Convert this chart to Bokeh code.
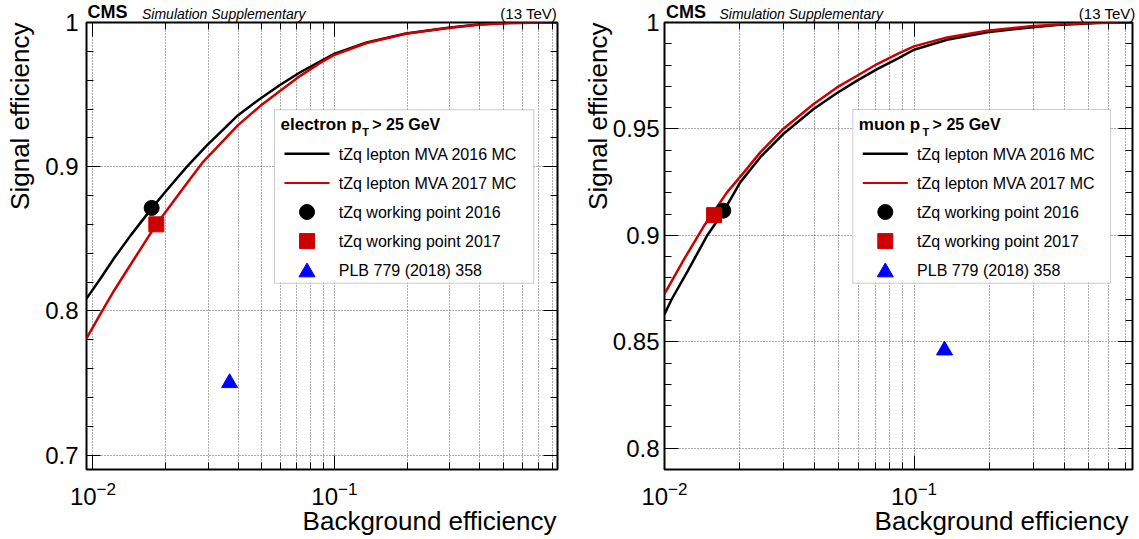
import numpy as np
from bokeh.plotting import figure
from bokeh.models import (FixedTicker, LinearAxis, LogAxis, Label, BoxAnnotation,
                          Range1d, CustomJSTickFormatter)
from bokeh.layouts import row
from bokeh.embed import file_html
from bokeh.resources import INLINE

# ---------------- data ----------------
# electron panel
ele16_x = [0.0094, 0.0108, 0.0122, 0.0143, 0.0175, 0.0202, 0.0244, 0.0295, 0.0399, 0.0494,
           0.0593, 0.0722, 0.0867, 0.099, 0.136, 0.198, 0.296, 0.394, 0.499, 0.65, 0.84]
ele16_y = [0.8085, 0.8230, 0.8363, 0.8522, 0.8711, 0.8837, 0.8997, 0.9145, 0.9357, 0.9473,
           0.9565, 0.9655, 0.9727, 0.9780, 0.9862, 0.9924, 0.9963, 0.9986, 0.9995, 0.9999, 1.0]
ele17_x = [0.0094, 0.0108, 0.0122, 0.0143, 0.0183, 0.0195, 0.0236, 0.0286, 0.0399, 0.0494,
           0.0593, 0.0722, 0.0867, 0.099, 0.136, 0.198, 0.296, 0.394, 0.499, 0.65, 0.84]
ele17_y = [0.7809, 0.7986, 0.8138, 0.8320, 0.8600, 0.8662, 0.8849, 0.9034, 0.9288, 0.9422,
           0.9524, 0.9630, 0.9716, 0.9772, 0.9858, 0.9922, 0.9962, 0.9985, 0.9995, 0.9999, 1.0]
ele_wp16_x, ele_wp16_y = [0.0175], [0.8714]
ele_wp17_x, ele_wp17_y = [0.0183], [0.8600]
ele_plb_x, ele_plb_y = [0.0368], [0.750]

# muon panel
mu16_x = [0.0100, 0.0107, 0.0123, 0.0148, 0.0172, 0.0201, 0.0242, 0.0299, 0.0396, 0.0491,
          0.0591, 0.0711, 0.0867, 0.0999, 0.1355, 0.1963, 0.2924, 0.3917, 0.541, 0.75]
mu16_y = [0.8630, 0.8701, 0.8826, 0.8998, 0.9110, 0.9249, 0.9367, 0.9476, 0.9594, 0.9669,
          0.9727, 0.9781, 0.9833, 0.9872, 0.9919, 0.9954, 0.9977, 0.9990, 0.9998, 1.0]
mu17_x = [0.0100, 0.0120, 0.0144, 0.0178, 0.0208, 0.0242, 0.0299, 0.0396, 0.0491,
          0.0591, 0.0711, 0.0867, 0.0999, 0.1355, 0.1963, 0.2924, 0.3917, 0.541, 0.75]
mu17_y = [0.8725, 0.8889, 0.9045, 0.9202, 0.9296, 0.9390, 0.9500, 0.9617, 0.9695,
          0.9750, 0.9805, 0.9855, 0.9888, 0.9930, 0.9961, 0.9982, 0.9992, 0.9999, 1.0]
mu_wp16_x, mu_wp16_y = [0.0172], [0.9116]
mu_wp17_x, mu_wp17_y = [0.0158], [0.9095]
mu_plb_x, mu_plb_y = [0.1324], [0.846]

# axes / ticks
x_major = [0.01, 0.1]
x_major_base = ["10", "10"]
x_major_exp = ["\u22122", "\u22121"]
x_minor = [0.02, 0.03, 0.04, 0.05, 0.06, 0.07, 0.08, 0.09, 0.2, 0.3, 0.4, 0.5, 0.6, 0.7, 0.8]
ele_y_major = [0.7, 0.8, 0.9, 1.0]
ele_y_labels = ["0.7", "0.8", "0.9", "1"]
ele_y_minor = [0.72, 0.74, 0.76, 0.78, 0.82, 0.84, 0.86, 0.88, 0.92, 0.94, 0.96, 0.98]
mu_y_major = [0.8, 0.85, 0.9, 0.95, 1.0]
mu_y_labels = ["0.8", "0.85", "0.9", "0.95", "1"]
mu_y_minor = [0.79, 0.81, 0.82, 0.83, 0.84, 0.86, 0.87, 0.88, 0.89, 0.91, 0.92, 0.93, 0.94,
              0.96, 0.97, 0.98, 0.99]

legend_labels = ["tZq lepton MVA 2016 MC", "tZq lepton MVA 2017 MC",
                 "tZq working point 2016", "tZq working point 2017", "PLB 779 (2018) 358"]
x_title = "Background efficiency"
y_title = "Signal efficiency"

FONT = "Liberation Sans"
RED = "#cc0000"
BLUE = "#0000ff"
W, H = 1139, 539
BASE_FIX = 0.34   # measured shift of Bokeh's "alphabetic" anchor, in font sizes

# transparent overlay covering the whole page: texts outside the plot frames + legends
ov = figure(width=W, height=H, x_range=Range1d(0, W), y_range=Range1d(0, H),
            x_axis_location=None, y_axis_location=None,
            output_backend="svg", toolbar_location=None,
            styles={"position": "absolute", "left": "0px", "top": "0px"})
ov.min_border_left = ov.min_border_right = ov.min_border_top = ov.min_border_bottom = 0
ov.background_fill_color = None
ov.border_fill_color = None
ov.outline_line_color = None
ov.xgrid.visible = False
ov.ygrid.visible = False


def lab(px, py, text, size, angle=0.0, **kw):
    # label in the overlay (absolute pixel coordinates, y measured from top, py = baseline)
    kw.setdefault("text_font", FONT)
    kw.setdefault("text_baseline", "alphabetic")
    kw.setdefault("text_color", "black")
    if angle:
        px -= BASE_FIX * size
    else:
        py -= BASE_FIX * size
    ov.add_layout(Label(x=px, y=H - py, text=text, text_font_size=f"{size}px",
                        angle=angle, **kw))


def make_panel(x0, width, bl, br, xr, yr, ymaj, ylab, ymin, c16, c17, wp16, wp17, plb,
               header, box, ylab_standoff, cms_x, sim_x, tev_x, xt_off):
    bt, bb = 22, 70
    p = figure(width=width, height=H, x_axis_type="log",
               x_range=Range1d(*xr), y_range=Range1d(*yr),
               min_border_left=bl, min_border_right=br, min_border_top=bt, min_border_bottom=bb,
               output_backend="svg", toolbar_location=None)
    p.background_fill_color = "white"
    p.border_fill_color = "white"
    p.outline_line_color = "black"
    p.outline_line_width = 2

    L, R, T, B = x0 + bl, x0 + width - br, bt, H - bb   # absolute frame edges
    lx0, lx1 = np.log10(xr[0]), np.log10(xr[1])

    def PX(xv):  # data x -> absolute pixel
        return L + (np.log10(xv) - lx0) / (lx1 - lx0) * (R - L)

    xt = FixedTicker(ticks=x_major, minor_ticks=x_minor)
    yt = FixedTicker(ticks=ymaj, minor_ticks=ymin)
    yfmt = CustomJSTickFormatter(args=dict(vals=ymaj, labs=ylab), code="""
        for (let i = 0; i < vals.length; i++) { if (Math.abs(vals[i] - tick) < 1e-9) return labs[i]; }
        return "";""")

    def style(ax, labels):
        ax.axis_line_color = None
        ax.major_tick_in = 14
        ax.major_tick_out = 0
        ax.minor_tick_in = 7
        ax.minor_tick_out = 0
        ax.major_tick_line_color = "black"
        ax.minor_tick_line_color = "black"
        ax.major_tick_line_width = 1
        ax.minor_tick_line_width = 1
        if not labels:
            ax.formatter = CustomJSTickFormatter(code="return '';")
            ax.major_label_text_font_size = "8px"
            ax.major_label_standoff = 0

    p.xaxis.ticker = xt
    style(p.xaxis[0], False)
    p.yaxis.ticker = yt
    p.yaxis.formatter = yfmt
    style(p.yaxis[0], True)
    p.yaxis.major_label_text_font = FONT
    p.yaxis.major_label_text_font_size = "24px"
    p.yaxis.major_label_text_color = "black"
    p.yaxis.major_label_standoff = ylab_standoff

    top = LogAxis(ticker=xt)
    style(top, False)
    p.add_layout(top, "above")
    right = LinearAxis(ticker=yt)
    style(right, False)
    p.add_layout(right, "right")

    p.xgrid.ticker = xt
    p.ygrid.ticker = yt
    for g in (p.xgrid, p.ygrid):
        g.grid_line_color = "black"
        g.grid_line_alpha = 0.65
        g.grid_line_dash = "1 2"
        g.grid_line_width = 1
    p.xgrid.minor_grid_line_color = "black"
    p.xgrid.minor_grid_line_alpha = 0.65
    p.xgrid.minor_grid_line_dash = "1 2"

    # curves and markers
    p.line(c16[0], c16[1], color="black", line_width=2.5)
    p.line(c17[0], c17[1], color=RED, line_width=2.5)
    p.scatter(wp16[0], wp16[1], marker="circle", size=15, color="black")
    p.scatter(wp17[0], wp17[1], marker="square", size=15, color=RED)
    p.scatter(plb[0], plb[1], marker="triangle", size=16, color=BLUE)

    # x tick labels 10^{n}
    for xv, base, ex in zip(x_major, x_major_base, x_major_exp):
        sx = PX(xv) + 3.6
        lab(sx, 504, base, 24, text_align="right")
        lab(sx, 494, ex, 17, text_align="left")

    # axis titles
    lab(R + xt_off, 529, x_title, 26, text_align="right")
    lab(L - 58, T, y_title, 26, angle=np.pi / 2, text_align="right")

    # header
    lab(cms_x, 18, "CMS", 18, text_font_style="bold")
    lab(sim_x, 18, "Simulation Supplementary", 14, text_font_style="italic")
    lab(tev_x, 18, "(13 TeV)", 15, text_align="right")

    # legend
    lb, tb, rb, btm = box
    ov.add_layout(BoxAnnotation(left=lb, right=rb, top=H - tb, bottom=H - btm,
                                fill_color="white", fill_alpha=1.0, line_color="#555555",
                                line_width=1, level="underlay"))
    widths = {"electron p": 4.779, "muon p": 3.724}
    main_w = widths[header] * 17
    lab(lb + 6, 129.5, header, 17, text_font_style="bold")
    lab(lb + 6 + main_w + 0.5, 135.5, "T", 11, text_font_style="bold")
    lab(lb + 6 + main_w + 10.5, 129.5, "> 25 GeV", 16, text_font_style="bold")
    rows = [153.3, 182.4, 211.5, 240.6, 269.7]
    ov.line([lb + 10, lb + 55], [H - rows[0]] * 2, color="black", line_width=2.5)
    ov.line([lb + 10, lb + 55], [H - rows[1]] * 2, color=RED, line_width=2)
    ov.scatter([lb + 32.5], [H - rows[2]], marker="circle", size=15, color="black")
    ov.scatter([lb + 32.5], [H - rows[3]], marker="square", size=15, color=RED)
    ov.scatter([lb + 32.5], [H - rows[4] - 2], marker="triangle", size=16, color=BLUE)
    for ry, txt in zip(rows, legend_labels):
        lab(lb + 64.3, ry + 5.8, txt, 16)
    return p


p1 = make_panel(0, 569, 86, 12, (0.0094, 0.84), (0.69, 1.0), ele_y_major, ele_y_labels,
                ele_y_minor, (ele16_x, ele16_y), (ele17_x, ele17_y),
                (ele_wp16_x, ele_wp16_y), (ele_wp17_x, ele_wp17_y), (ele_plb_x, ele_plb_y),
                "electron p", (274, 109.3, 533.3, 282.7), 8, 87, 141.5, 556.5, -1)
p2 = make_panel(569, 570, 95, 7, (0.01, 0.75), (0.79, 1.0), mu_y_major, mu_y_labels,
                mu_y_minor, (mu16_x, mu16_y), (mu17_x, mu17_y),
                (mu_wp16_x, mu_wp16_y), (mu_wp17_x, mu_wp17_y), (mu_plb_x, mu_plb_y),
                "muon p", (852.3, 109, 1110, 282.7), 5, 665.5, 719, 1135, -4)

layout = row(p1, p2)
open("out.html", "w").write(file_html([layout, ov], INLINE))
